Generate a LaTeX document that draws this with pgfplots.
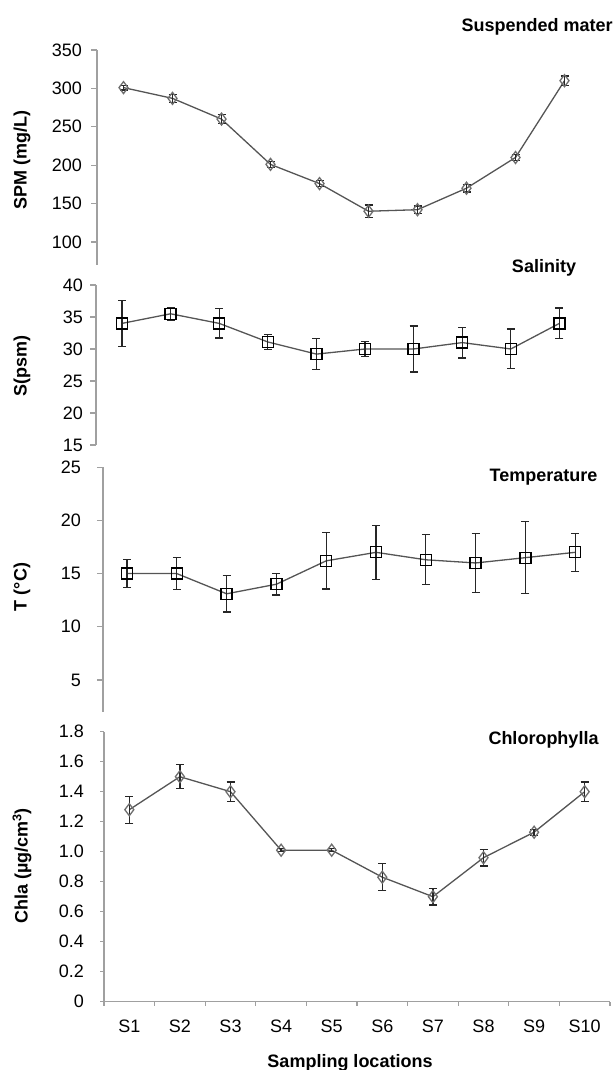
\documentclass[border=0pt]{standalone}
\usepackage{fontspec}
\setmainfont{Liberation Sans}
\usepackage{pgfplots}
\pgfplotsset{compat=1.18}
\definecolor{axisgray}{RGB}{160,160,160}
\definecolor{linegray}{RGB}{85,85,85}
\definecolor{markgray}{RGB}{110,110,110}
\newcommand\tk{\fontsize{18}{20}\selectfont}
\newcommand\lb{\fontsize{18}{20}\selectfont\bfseries}
\pgfplotsset{
  panel/.style={
    scale only axis, anchor=south west, clip=false,
    axis y line*=left,
    axis line style={axisgray, line width=1.2pt},
    tick align=outside, major tick length=6pt,
    tick style={axisgray, line width=1.2pt},
    y tick label style={font=\tk, anchor=east, inner sep=0pt},
    /pgf/number format/assume math mode=true,
  },
  noxaxis/.style={hide x axis},
  serie/.style={linegray, line width=1.3pt, mark options={solid, fill=none, line width=1.1pt}},
  errs/.style={error bars/.cd, y dir=both, y explicit,
    error bar style={black!85, line width=1.3pt},
    error mark options={rotate=90, mark size=4pt, line width=1.3pt, black!85}},
}
\begin{document}
\begin{tikzpicture}
\useasboundingbox (0,0) rectangle (615pt,1070pt);

%% SPM
\begin{axis}[panel, noxaxis, at={(97pt,805pt)}, width=490pt, height=215pt,
  xmin=0.459, xmax=10.459, ymin=70, ymax=350, ytick={100,150,...,350},
  yticklabel style={xshift=-9pt}]
\addplot+[serie, mark=diamond, mark size=6pt, mark options={markgray}, errs]
coordinates {
 (1,301) +- (0,3)
 (2,287) +- (0,5)
 (3,260) +- (0,6)
 (4,201) +- (0,4)
 (5,176) +- (0,4)
 (6,140) +- (0,8)
 (7,142) +- (0,5)
 (8,170) +- (0,5)
 (9,210) +- (0,4)
 (10,310) +- (0,6)};
\end{axis}

%% Salinity
\begin{axis}[panel, noxaxis, at={(96pt,625pt)}, width=486pt, height=160pt,
  xmin=0.465, xmax=10.465, ymin=15, ymax=40, ytick={15,20,...,40},
  yticklabel style={xshift=-7pt}]
\addplot+[serie, mark=square, mark size=5.5pt, mark options={black}, errs]
coordinates {
 (1,34.0) +- (0,3.6)
 (2,35.5) +- (0,1.0)
 (3,34.0) +- (0,2.3)
 (4,31.1) +- (0,1.2)
 (5,29.2) +- (0,2.4)
 (6,30.0) +- (0,1.2)
 (7,30.0) +- (0,3.6)
 (8,31.0) +- (0,2.4)
 (9,30.0) +- (0,3.1)
 (10,34.0) +- (0,2.4)};
\end{axis}

%% Temperature
\begin{axis}[panel, noxaxis, at={(103pt,358.2pt)}, width=498pt, height=244.5pt,
  xmin=0.518, xmax=10.518, ymin=2, ymax=25, ytick={5,10,...,25},
  yticklabel style={xshift=-16pt}]
\addplot+[serie, mark=square, mark size=5.5pt, mark options={black}, errs]
coordinates {
 (1,15.0) +- (0,1.3)
 (2,15.0) +- (0,1.5)
 (3,13.1) +- (0,1.7)
 (4,14.0) +- (0,1.0)
 (5,16.2) +- (0,2.65)
 (6,17.0) +- (0,2.55)
 (7,16.3) +- (0,2.35)
 (8,16.0) +- (0,2.75)
 (9,16.5) +- (0,3.4)
 (10,17.0) +- (0,1.8)};
\end{axis}

%% Chlorophyll a
\begin{axis}[panel, at={(104pt,68.3pt)}, width=506pt, height=270pt,
  axis x line*=bottom,
  xmin=0.5, xmax=10.5, ymin=0, ymax=1.8,
  ytick={0,0.2,...,1.8},
  yticklabels={0,0.2,0.4,0.6,0.8,1.0,1.2,1.4,1.6,1.8},
  yticklabel style={xshift=-16pt},
  xtick={0.5,1.5,...,10.5}, x tick label as interval,
  xticklabels={S1,S2,S3,S4,S5,S6,S7,S8,S9,S10},
  xticklabel style={font=\tk, anchor=base, inner sep=0pt, yshift=-27pt},
  major tick length=4pt]
\addplot+[serie, mark=diamond, mark size=6pt, mark options={markgray}, errs]
coordinates {
 (1,1.28) +- (0,0.09)
 (2,1.50) +- (0,0.08)
 (3,1.40) +- (0,0.065)
 (4,1.01) +- (0,0.01)
 (5,1.01) +- (0,0.01)
 (6,0.83) +- (0,0.09)
 (7,0.70) +- (0,0.055)
 (8,0.96) +- (0,0.055)
 (9,1.13) +- (0,0.02)
 (10,1.40) +- (0,0.065)};
\end{axis}

\node[rotate=90, font=\lb] at (22pt,910pt) {SPM (mg/L)};
\node[rotate=90, font=\lb] at (22pt,704pt) {S(psm)};
\node[rotate=90, font=\lb] at (22pt,483pt) {T (°C)};
\node[rotate=90, font=\lb] at (22pt,204pt) {Chla (µg/cm\textsuperscript{3})};

\node[font=\lb, anchor=west] at (458pt,1043pt) {Suspended mater};
\node[font=\lb] at (544pt,802pt) {Salinity};
\node[font=\lb] at (543.5pt,593pt) {Temperature};
\node[font=\lb] at (543.5pt,330pt) {Chlorophylla};
\node[font=\lb, anchor=base] at (350pt,2pt) {Sampling locations};
\end{tikzpicture}
\end{document}
